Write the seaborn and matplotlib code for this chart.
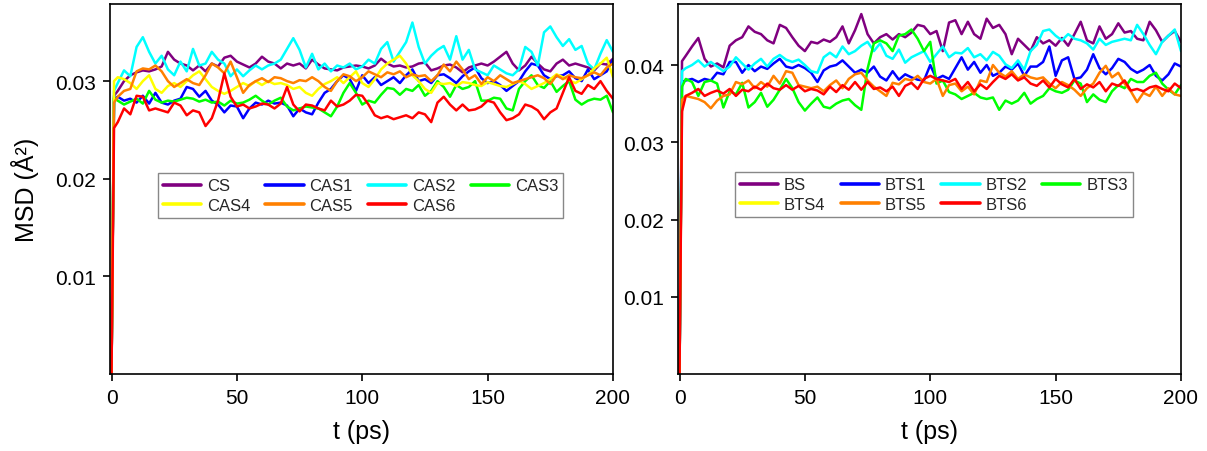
import numpy as np
import pandas as pd
import matplotlib
matplotlib.use("Agg")
import matplotlib.pyplot as plt
import seaborn as sns
from matplotlib.lines import Line2D

sns.set_theme(style="ticks")
plt.rcParams['font.family'] = ['Liberation Sans', 'DejaVu Sans']

# time grid (ps)
T = [0.0, 1.0] + [2.5 * k for k in range(1, 81)]

# MSD values, in units of 1e-4 Angstrom^2
CS = [0, 285,
      290, 300, 306, 309, 311, 310, 312, 315, 330, 322,
      318, 316, 311, 316, 310, 318, 315, 324, 326, 320,
      317, 314, 318, 325, 320, 318, 313, 318, 316, 318,
      313, 322, 317, 313, 312, 311, 314, 315, 316, 315,
      313, 316, 323, 318, 315, 316, 314, 315, 318, 319,
      311, 313, 316, 317, 314, 309, 314, 316, 318, 316,
      320, 325, 330, 318, 311, 316, 325, 318, 312, 310,
      318, 322, 316, 318, 316, 314, 311, 318, 317, 323]
CAS1 = [0, 282,
        284, 280, 282, 278, 285, 277, 288, 278, 276, 280,
        282, 294, 292, 284, 290, 280, 276, 268, 275, 274,
        262, 272, 278, 276, 280, 277, 278, 275, 264, 272,
        268, 266, 278, 288, 292, 300, 306, 302, 290, 306,
        298, 304, 296, 300, 304, 298, 306, 312, 300, 302,
        298, 306, 307, 303, 298, 305, 310, 314, 303, 298,
        300, 296, 290, 295, 300, 310, 318, 316, 306, 302,
        305, 306, 310, 303, 300, 312, 302, 306, 310, 322]
CAS2 = [0, 290,
        298, 311, 305, 335, 345, 330, 318, 326, 312, 306,
        320, 310, 333, 316, 318, 330, 322, 318, 305, 312,
        305, 311, 316, 312, 316, 318, 322, 333, 344, 332,
        314, 328, 312, 318, 310, 316, 314, 318, 312, 315,
        322, 318, 333, 340, 320, 330, 340, 360, 335, 318,
        326, 332, 336, 322, 346, 322, 332, 312, 309, 306,
        316, 312, 308, 306, 312, 335, 330, 316, 350, 356,
        345, 336, 343, 332, 336, 318, 312, 328, 342, 330]
CAS3 = [0, 283,
        280, 276, 279, 282, 277, 290, 281, 278, 280, 279,
        281, 283, 282, 279, 281, 278, 279, 275, 280, 277,
        278, 281, 285, 280, 276, 280, 283, 274, 270, 272,
        274, 273, 272, 268, 264, 274, 288, 298, 288, 276,
        280, 278, 286, 293, 292, 286, 292, 290, 296, 285,
        290, 300, 294, 284, 296, 292, 294, 300, 280, 280,
        283, 282, 272, 270, 292, 300, 306, 296, 293, 300,
        289, 295, 300, 281, 276, 280, 282, 281, 285, 268]
CAS4 = [0, 300,
        304, 302, 298, 292, 300, 306, 292, 288, 295, 298,
        294, 300, 306, 310, 302, 294, 290, 287, 290, 294,
        298, 295, 300, 296, 300, 297, 298, 296, 292, 294,
        288, 285, 292, 297, 300, 304, 298, 304, 310, 298,
        294, 302, 312, 318, 322, 326, 318, 306, 300, 292,
        288, 298, 297, 298, 295, 299, 298, 296, 295, 299,
        297, 295, 294, 297, 300, 297, 292, 295, 298, 302,
        307, 304, 301, 298, 302, 306, 313, 318, 324, 304]
CAS5 = [0, 278,
        284, 290, 292, 310, 313, 312, 316, 310, 300, 294,
        298, 302, 298, 296, 306, 318, 314, 308, 320, 304,
        288, 296, 300, 303, 299, 304, 303, 300, 298, 301,
        300, 304, 300, 294, 290, 300, 307, 305, 300, 304,
        310, 307, 304, 309, 307, 310, 304, 307, 305, 306,
        300, 306, 317, 310, 320, 312, 302, 306, 297, 304,
        300, 306, 302, 298, 300, 302, 304, 306, 303, 297,
        306, 302, 306, 304, 303, 306, 309, 306, 314, 318]
CAS6 = [0, 252,
        258, 272, 266, 285, 284, 270, 272, 270, 268, 278,
        275, 265, 270, 268, 254, 262, 280, 308, 284, 274,
        276, 272, 274, 277, 276, 272, 277, 294, 276, 269,
        276, 275, 272, 270, 280, 274, 276, 280, 286, 285,
        276, 265, 262, 264, 261, 263, 265, 262, 268, 266,
        258, 278, 284, 276, 270, 276, 270, 271, 274, 280,
        278, 268, 260, 262, 266, 276, 274, 270, 261, 268,
        272, 288, 304, 290, 287, 296, 292, 300, 290, 282]

BS = [0, 405,
      412, 424, 435, 408, 398, 402, 397, 425, 432, 436,
      450, 443, 440, 432, 428, 452, 448, 436, 425, 418,
      430, 428, 433, 430, 436, 450, 428, 445, 466, 440,
      428, 436, 440, 433, 440, 436, 442, 452, 450, 440,
      444, 418, 455, 458, 440, 456, 440, 434, 460, 448,
      452, 440, 414, 434, 426, 418, 436, 428, 432, 425,
      435, 425, 440, 456, 432, 428, 450, 434, 440, 454,
      442, 444, 434, 432, 456, 445, 430, 438, 444, 430]
BTS1 = [0, 378,
        380, 382, 378, 382, 380, 390, 388, 404, 404, 390,
        400, 392, 398, 395, 402, 408, 398, 396, 400, 396,
        390, 378, 393, 398, 400, 406, 398, 390, 394, 390,
        398, 385, 380, 392, 381, 388, 384, 381, 380, 400,
        382, 386, 382, 396, 410, 394, 404, 390, 400, 386,
        390, 398, 394, 402, 386, 398, 398, 404, 424, 386,
        406, 410, 382, 384, 394, 414, 396, 388, 396, 408,
        404, 395, 390, 394, 400, 386, 380, 388, 402, 398]
BTS2 = [0, 392,
        396, 400, 406, 398, 404, 398, 392, 398, 410, 402,
        394, 402, 408, 398, 408, 413, 407, 404, 407, 400,
        392, 390, 410, 416, 410, 424, 414, 418, 425, 430,
        418, 428, 412, 408, 420, 403, 410, 414, 418, 404,
        414, 424, 410, 416, 415, 422, 410, 414, 406, 417,
        412, 401, 396, 406, 394, 418, 426, 444, 446, 438,
        432, 440, 434, 432, 428, 420, 434, 426, 430, 432,
        434, 432, 452, 440, 426, 414, 430, 438, 446, 418]
BTS3 = [0, 372,
        382, 378, 360, 378, 380, 376, 345, 366, 362, 377,
        345, 352, 364, 346, 355, 368, 382, 370, 352, 341,
        350, 358, 346, 344, 350, 354, 356, 348, 342, 395,
        428, 432, 428, 418, 438, 440, 446, 434, 418, 430,
        376, 380, 365, 362, 356, 360, 364, 358, 356, 358,
        342, 354, 350, 354, 364, 350, 356, 360, 370, 366,
        364, 368, 380, 376, 352, 362, 355, 352, 366, 374,
        370, 382, 378, 378, 386, 390, 376, 368, 362, 374]
BTS4 = []  # listed in the legend, no curve visible
BTS5 = [0, 355,
        360, 358, 356, 352, 344, 354, 360, 362, 378, 375,
        380, 370, 378, 372, 386, 376, 392, 390, 374, 372,
        370, 372, 366, 374, 380, 370, 382, 388, 390, 380,
        372, 366, 360, 377, 375, 382, 380, 386, 378, 376,
        382, 360, 374, 376, 366, 372, 362, 380, 378, 400,
        390, 385, 392, 382, 388, 384, 382, 384, 376, 370,
        378, 374, 368, 360, 370, 376, 390, 399, 384, 390,
        376, 366, 352, 364, 360, 372, 360, 370, 362, 360]
BTS6 = [0, 340,
        360, 364, 369, 360, 364, 367, 363, 369, 360, 368,
        366, 372, 368, 376, 370, 368, 374, 368, 373, 366,
        369, 367, 362, 372, 365, 374, 368, 378, 368, 378,
        369, 371, 366, 372, 360, 373, 377, 369, 382, 386,
        382, 380, 378, 382, 369, 378, 366, 375, 369, 378,
        386, 382, 388, 380, 384, 376, 373, 380, 371, 382,
        375, 371, 382, 369, 375, 371, 378, 366, 376, 373,
        380, 367, 369, 366, 371, 373, 369, 366, 376, 370]

LEFT_NAMES = ["CS", "CAS1", "CAS2", "CAS3", "CAS4", "CAS5", "CAS6"]
LEFT_DATA = [CS, CAS1, CAS2, CAS3, CAS4, CAS5, CAS6]
RIGHT_NAMES = ["BS", "BTS1", "BTS2", "BTS3", "BTS4", "BTS5", "BTS6"]
RIGHT_DATA = [BS, BTS1, BTS2, BTS3, BTS4, BTS5, BTS6]
COLORS = ["#800080", "#0000FF", "#00FFFF", "#00FF00", "#FFFF00", "#FF8000", "#FF0000"]

LEFT_YTICKS = [0.01, 0.02, 0.03]
RIGHT_YTICKS = [0.01, 0.02, 0.03, 0.04]
XTICKS = [0, 50, 100, 150, 200]

W, H = 1207, 452
fig = plt.figure(figsize=(W / 100, H / 100), dpi=100)
axL = fig.add_axes([110 / W, 1 - 375 / H, 503 / W, 370 / H])
axR = fig.add_axes([678 / W, 1 - 375 / H, 503 / W, 370 / H])


def draw(ax, names, data, ylim, yticks, legend_anchor):
    frames = []
    present = []
    for n, a in zip(names, data):
        if len(a) == 0:
            continue
        present.append(n)
        frames.append(pd.DataFrame({"t": T, "msd": np.asarray(a, float) * 1e-4, "series": n}))
    df = pd.concat(frames, ignore_index=True)
    pal = {n: c for n, c in zip(names, COLORS)}
    sns.lineplot(data=df, x="t", y="msd", hue="series", hue_order=present,
                 palette=pal, linewidth=1.8, legend=False, estimator=None,
                 sort=False, ax=ax)
    ax.set_xlim(-0.6, 200)
    ax.set_ylim(*ylim)
    ax.set_xticks(XTICKS)
    ax.set_xticklabels([str(v) for v in XTICKS])
    ax.set_yticks(yticks)
    ax.set_yticklabels([f"{v:.2f}" for v in yticks])
    for s in ax.spines.values():
        s.set_visible(True)
        s.set_color("black")
        s.set_linewidth(1.2)
    ax.tick_params(axis="both", which="major", direction="out", length=5,
                   width=1.2, colors="black", labelsize=15, pad=5,
                   top=False, right=False, bottom=True, left=True)
    ax.set_xlabel("t (ps)", fontsize=18, labelpad=9, color="black")
    ax.set_ylabel("")
    handles = [Line2D([], [], color=c, lw=2.6) for c in COLORS]
    order = [0, 4, 1, 5, 2, 6, 3]
    leg = ax.legend([handles[i] for i in order], [names[i] for i in order],
                    ncol=4, loc="upper left", bbox_to_anchor=legend_anchor,
                    fontsize=12, frameon=True, fancybox=False, framealpha=1,
                    edgecolor="#888888", handlelength=2.3, handletextpad=0.35,
                    columnspacing=0.9, labelspacing=0.25, borderpad=0.3,
                    borderaxespad=0)
    leg.get_frame().set_linewidth(1.0)


draw(axL, LEFT_NAMES, LEFT_DATA, (0, 0.0379), LEFT_YTICKS, (0.095, 0.542))
draw(axR, RIGHT_NAMES, RIGHT_DATA, (0, 0.0479), RIGHT_YTICKS, (0.113, 0.545))
axL.set_ylabel("MSD (Å²)", fontsize=18, labelpad=12, color="black")

fig.savefig("out.png", dpi=100)
